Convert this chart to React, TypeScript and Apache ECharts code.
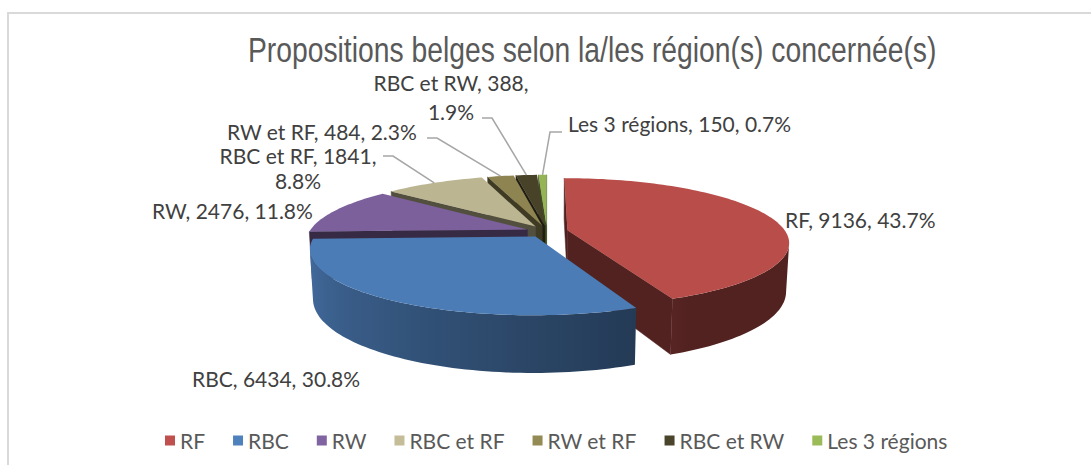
import React, { useEffect, useRef } from "react";
import * as echarts from "echarts";

// ---- data ----
const categories = ["RF", "RBC", "RW", "RBC et RF", "RW et RF", "RBC et RW", "Les 3 régions"];
const values = [9136, 6434, 2476, 1841, 484, 388, 150];
const sliceColors = ["#C0504D", "#4F81BD", "#8064A2", "#C4BD97", "#948A54", "#4A452A", "#9BBB59"];
const chartTitle = "Propositions belges selon la/les région(s) concernée(s)";

// ---- layout (positions / styles only) ----
const labelBoxes = [
  { x: 785, y: 219, align: "left", wrap: false, lineHeight: 24, leader: [] as number[][] },
  { x: 192, y: 378, align: "left", wrap: false, lineHeight: 24, leader: [] as number[][] },
  { x: 152, y: 210, align: "left", wrap: false, lineHeight: 24, leader: [] as number[][] },
  { x: 298, y: 168, align: "center", wrap: true, lineHeight: 25, leader: [[383, 156], [393, 156]] },
  { x: 227, y: 131, align: "left", wrap: false, lineHeight: 21, leader: [[427, 138], [437, 138]] },
  { x: 451, y: 97, align: "center", wrap: true, lineHeight: 29, leader: [[482, 118], [492, 118]] },
  { x: 568, y: 123, align: "left", wrap: false, lineHeight: 24, leader: [[562, 132], [550, 132]] },
];

const GEO = { cx: 547, cy: 231.5, k: 218, sinA: 0.285, dist: 5.23, h: 0.23, explode: 0.096 };
const LABEL_FONT = "Lato, 'Open Sans', sans-serif";
const TITLE_FONT = "'Liberation Sans', Arial, sans-serif";

function shade(hex: string, f: number): string {
  const n = parseInt(hex.slice(1), 16);
  const r = Math.max(0, Math.min(255, Math.round(((n >> 16) & 255) * f)));
  const g = Math.max(0, Math.min(255, Math.round(((n >> 8) & 255) * f)));
  const b = Math.max(0, Math.min(255, Math.round((n & 255) * f)));
  return "rgb(" + r + "," + g + "," + b + ")";
}

function project(X: number, Y: number, D: number): number[] {
  const s = GEO.sinA;
  const c = Math.sqrt(1 - s * s);
  const ys = Y * c + D * s;
  const zs = D * c - Y * s;
  const p = GEO.dist / (GEO.dist + zs);
  return [GEO.cx + GEO.k * X * p, GEO.cy - GEO.k * ys * p];
}

function total(): number {
  return values.reduce((a, b) => a + b, 0);
}

function sliceAngles(i: number): number[] {
  const t = total();
  let acc = 0;
  for (let j = 0; j < i; j++) acc += values[j];
  return [(acc / t) * 2 * Math.PI, ((acc + values[i]) / t) * 2 * Math.PI];
}

function sideShade(deg: number): number {
  const d = ((deg % 360) + 360) % 360;
  if (d < 157) return 0.42;
  if (d <= 280) return 0.45 + ((d - 157) / 123) * 0.47;
  return 0.92;
}

function buildSlice(i: number): any[] {
  const [a1, a2] = sliceAngles(i);
  const mid = (a1 + a2) / 2;
  const ox = GEO.explode * Math.sin(mid);
  const oD = GEO.explode * Math.cos(mid);
  const h = GEO.h;
  const s = GEO.sinA;
  const c = Math.sqrt(1 - s * s);
  const camD = -GEO.dist * c;
  const rim = (a: number, Y: number) => project(ox + Math.sin(a), Y, oD + Math.cos(a));
  const apex = (Y: number) => project(ox, Y, oD);
  const base = sliceColors[i];
  const children: any[] = [];

  const faces = [
    { a: a1, n: [-Math.cos(a1), Math.sin(a1)] },
    { a: a2, n: [Math.cos(a2), -Math.sin(a2)] },
  ];
  for (const f of faces) {
    const vis = (0 - ox) * f.n[0] + (camD - oD) * f.n[1];
    if (vis > 0) {
      children.push({
        type: "polygon",
        shape: { points: [apex(0), rim(f.a, 0), rim(f.a, -h), apex(-h)] },
        style: { fill: shade(base, 0.42), stroke: shade(base, 0.42), lineWidth: 0.5 },
      });
    }
  }

  const N = Math.max(2, Math.ceil((a2 - a1) / (Math.PI / 120)));
  const visA: number[] = [];
  for (let j = 0; j <= N; j++) {
    const a = a1 + ((a2 - a1) * j) / N;
    const vis = (0 - (ox + Math.sin(a))) * Math.sin(a) + (camD - (oD + Math.cos(a))) * Math.cos(a);
    if (vis > 0) visA.push(a);
  }
  if (visA.length >= 2) {
    const topP = visA.map((a) => rim(a, 0));
    const botP = visA.map((a) => rim(a, -h)).reverse();
    const pts = topP.concat(botP);
    const xs = pts.map((p) => p[0]);
    const minX = Math.min(...xs);
    const maxX = Math.max(...xs);
    const stops: any[] = [];
    const step = Math.max(1, Math.floor(visA.length / 12));
    for (let j = 0; j < visA.length; j += step) {
      const x = topP[j][0];
      stops.push({ offset: (x - minX) / Math.max(1, maxX - minX), color: shade(base, sideShade((visA[j] * 180) / Math.PI)) });
    }
    const lastJ = visA.length - 1;
    stops.push({ offset: (topP[lastJ][0] - minX) / Math.max(1, maxX - minX), color: shade(base, sideShade((visA[lastJ] * 180) / Math.PI)) });
    stops.sort((p, q) => p.offset - q.offset);
    children.push({
      type: "polygon",
      shape: { points: pts },
      style: { fill: new echarts.graphic.LinearGradient(0, 0, 1, 0, stops) },
    });
  }

  const topPts = [apex(0)];
  for (let j = 0; j <= N; j++) topPts.push(rim(a1 + ((a2 - a1) * j) / N, 0));
  children.push({
    type: "polygon",
    shape: { points: topPts },
    style: { fill: shade(base, 0.96) },
  });
  return children;
}

function buildLabel(i: number): any[] {
  const [a1, a2] = sliceAngles(i);
  const mid = (a1 + a2) / 2;
  const r = 1 + GEO.explode;
  const anchor = project(r * Math.sin(mid), 0, r * Math.cos(mid));
  const pct = ((values[i] / total()) * 100).toFixed(1);
  const box = labelBoxes[i];
  const text = box.wrap
    ? categories[i] + ", " + values[i] + ",\n" + pct + "%"
    : categories[i] + ", " + values[i] + ", " + pct + "%";
  const els: any[] = [];
  if (box.leader.length) {
    els.push({
      type: "polyline",
      shape: { points: box.leader.concat([anchor]) },
      style: { stroke: "#a6a6a6", lineWidth: 1.5, fill: null },
    });
  }
  els.push({
    type: "text",
    x: box.x,
    y: box.y,
    style: {
      text,
      fill: "#404040",
      fontFamily: LABEL_FONT,
      fontSize: 21,
      align: box.align,
      verticalAlign: "middle",
      lineHeight: box.lineHeight,
    },
  });
  return els;
}

export default function App() {
  const ref = useRef<HTMLDivElement>(null);
  useEffect(() => {
    document.body.style.margin = "0";
    if (!ref.current) return;
    const chart = echarts.init(ref.current, null, { renderer: "svg" });
    const order = categories
      .map((_, i) => i)
      .sort((p, q) => {
        const [p1, p2] = sliceAngles(p);
        const [q1, q2] = sliceAngles(q);
        return Math.cos((q1 + q2) / 2) - Math.cos((p1 + p2) / 2);
      });
    const sliceSeries = categories.map((name, i) => ({
      type: "custom",
      name,
      coordinateSystem: "none",
      silent: true,
      z: 10 + order.indexOf(i),
      itemStyle: { color: sliceColors[i] },
      data: [values[i]],
      renderItem: () => ({ type: "group", children: buildSlice(i) }),
    }));
    const labelSeries = {
      type: "custom",
      name: "labels",
      coordinateSystem: "none",
      silent: true,
      z: 50,
      data: values.map((v) => v),
      renderItem: (params: any) => ({ type: "group", children: buildLabel(params.dataIndex) }),
    };
    chart.setOption({
      animation: false,
      backgroundColor: "#ffffff",
      legend: {
        data: categories,
        left: 160,
        top: 425,
        icon: "rect",
        itemWidth: 10,
        itemHeight: 10,
        itemGap: 28,
        selectedMode: false,
        textStyle: { fontFamily: LABEL_FONT, fontSize: 21, color: "#595959" },
      },
      graphic: [
        {
          type: "rect",
          silent: true,
          z: -10,
          shape: { x: 8, y: 13, width: 1200, height: 600 },
          style: { fill: "none", stroke: "#d9d9d9", lineWidth: 2 },
        },
        {
          type: "text",
          silent: true,
          z: 60,
          x: 248,
          y: 49.5,
          scaleX: 0.82,
          style: {
            text: chartTitle,
            fontFamily: TITLE_FONT,
            fontSize: 34.5,
            fill: "#595959",
            align: "left",
            verticalAlign: "middle",
          },
        },
      ],
      series: [...sliceSeries, labelSeries],
    });
    return () => chart.dispose();
  }, []);
  return <div ref={ref} style={{ width: 1091, height: 465 }} />;
}
